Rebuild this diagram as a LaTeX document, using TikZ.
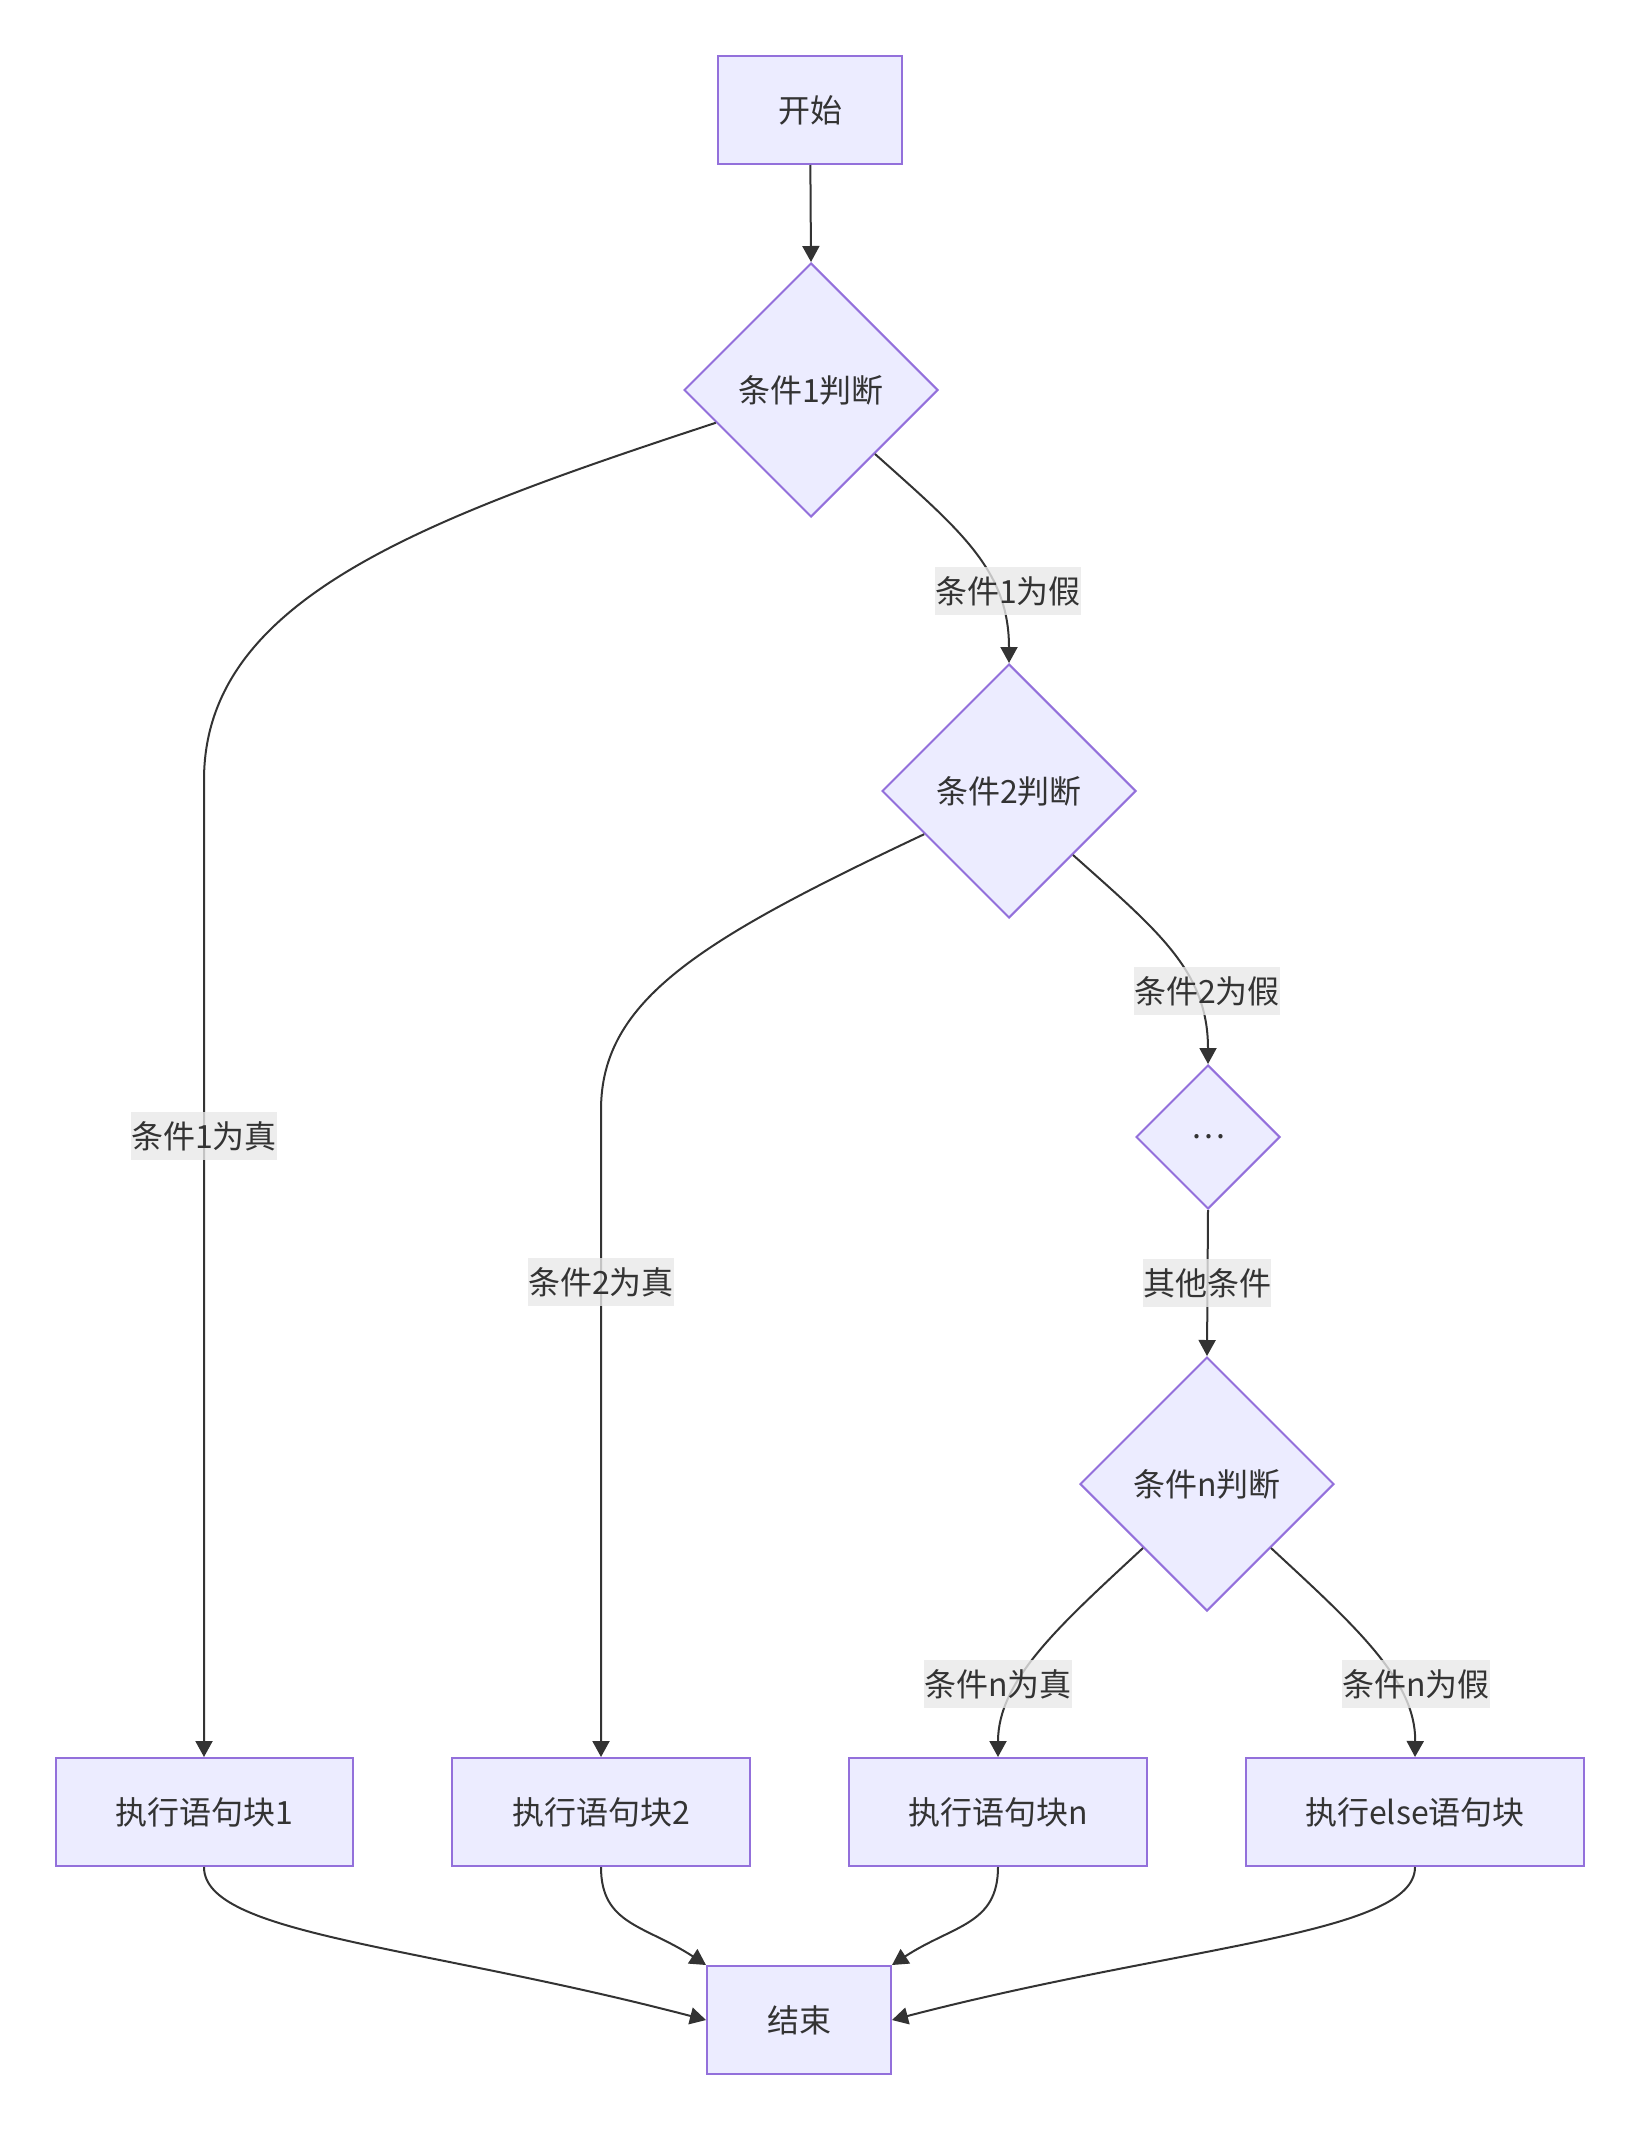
\documentclass[tikz,border=0pt]{standalone}
\usepackage{fontspec}
\setmainfont{Noto Sans CJK SC}
\usetikzlibrary{shapes.geometric,arrows.meta}
\definecolor{nodefill}{HTML}{ECECFF}
\definecolor{nodeborder}{HTML}{9370DB}
\definecolor{linecol}{HTML}{333333}
\definecolor{lblbg}{HTML}{E8E8E8}
\begin{document}
\begin{tikzpicture}[x=1pt,y=-1pt,
  font=\fontsize{32}{38}\selectfont, text=linecol,
  box/.style={draw=nodeborder,fill=nodefill,line width=2pt,minimum height=108pt,inner sep=0pt},
  dia/.style={diamond,draw=nodeborder,fill=nodefill,line width=2pt,inner sep=0pt,minimum size=254pt},
  lbl/.style={fill=lblbg,fill opacity=0.8,text opacity=1,inner xsep=0pt,inner ysep=0pt,minimum height=48pt},
  conn/.style={draw=linecol,line width=2pt,-{Triangle[length=16pt,width=17pt]}}]
\useasboundingbox (0,0) rectangle (1640,2130);

% nodes
\node[box,minimum width=184pt] (start) at (810,110) {开始};
\node[dia] (d1) at (811,390) {条件1判断};
\node[dia] (d2) at (1009,791) {条件2判断};
\node[dia,minimum size=144pt] (dd) at (1208,1137) {…};
\node[dia] (dn) at (1207,1484) {条件n判断};
\node[box,minimum width=297pt] (b1) at (204,1812) {执行语句块1};
\node[box,minimum width=298pt] (b2) at (601,1812) {执行语句块2};
\node[box,minimum width=298pt] (bn) at (998,1812) {执行语句块n};
\node[box,minimum width=338pt] (be) at (1415,1812) {执行else语句块};
\node[box,minimum width=184pt] (fin) at (799,2020) {结束};

% connectors
\draw[conn] (start) -- (d1.north);
\draw[conn] (d1.199) .. controls (420,520) and (204,600) .. (204,780) -- (b1.north);
\draw[conn] (d1.south east) .. controls (960,530) and (1009,570) .. (d2.north);
\draw[conn] (d2.207) .. controls (700,940) and (601,1000) .. (601,1110) -- (b2.north);
\draw[conn] (d2.south east) .. controls (1158,931) and (1208,971) .. (dd.north);
\draw[conn] (dd.south) -- (dn.north);
\draw[conn] (dn.south west) .. controls (1060,1625) and (998,1680) .. (bn.north);
\draw[conn] (dn.south east) .. controls (1354,1625) and (1416,1680) .. (be.north);
\draw[conn] (b1.south) .. controls (204,1935) and (420,1945) .. (fin.west);
\draw[conn] (b2.south) .. controls (601,1925) and (645,1925) .. (fin.north west);
\draw[conn] (bn.south) .. controls (998,1925) and (953,1925) .. (fin.north east);
\draw[conn] (be.south) .. controls (1415,1935) and (1180,1945) .. (fin.east);

% edge labels
\node[lbl] (l1t) at (204,1136) {条件1为真};
\node[lbl] (l1f) at (1008,591) {条件1为假};
\node[lbl] (l2t) at (601,1282) {条件2为真};
\node[lbl] (l2f) at (1207,991) {条件2为假};
\node[lbl] (lo) at (1207,1283) {其他条件};
\node[lbl] (lnt) at (998,1684) {条件n为真};
\node[lbl] (lnf) at (1416,1684) {条件n为假};
\end{tikzpicture}
\end{document}
